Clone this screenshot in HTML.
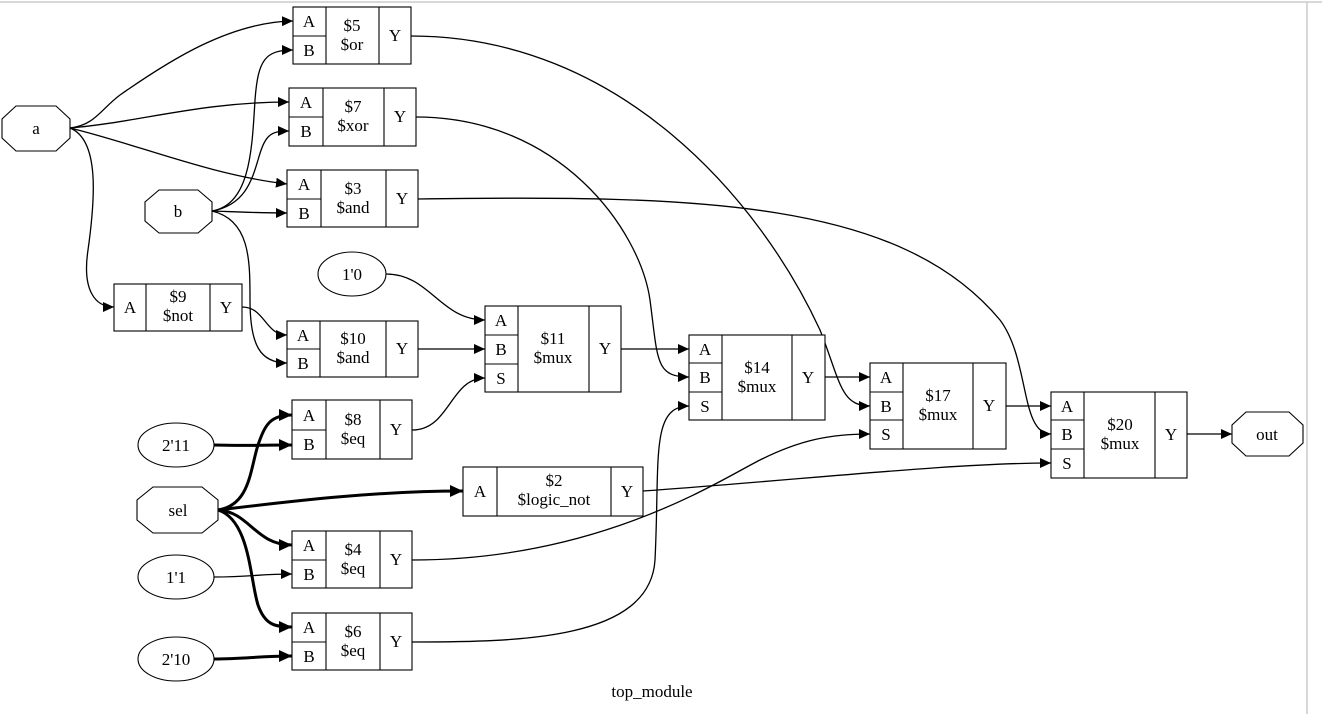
<!DOCTYPE html>
<html><head><meta charset="utf-8"><style>
html,body{margin:0;padding:0;background:#fff;}
svg{display:block;}
text{font-family:"Liberation Serif",serif;font-size:17px;fill:#000;}
</style></head><body>
<svg width="1322" height="714" viewBox="0 0 1322 714" xmlns="http://www.w3.org/2000/svg">
<defs>
<marker id="ar" markerUnits="userSpaceOnUse" markerWidth="12" markerHeight="10" refX="11" refY="5" orient="auto">
<path d="M0,0 L11,5 L0,10 z" fill="#000"/></marker>
<marker id="ar2" markerUnits="userSpaceOnUse" markerWidth="14" markerHeight="12" refX="13" refY="6" orient="auto">
<path d="M0,0 L13,6 L0,12 z" fill="#000"/></marker>
</defs>
<line x1="0" y1="2" x2="1322" y2="2" stroke="#ccc" stroke-width="1.5"/>
<line x1="1307" y1="2" x2="1307" y2="714" stroke="#ccc" stroke-width="1.5"/>
<g fill="none" stroke="#000" stroke-width="1.3">
<path d="M70,128 C95,125 100,110 120,95 C170,60 230,22 293,21" marker-end="url(#ar)"/>
<path d="M70,128 C140,122 200,102 289,102" marker-end="url(#ar)"/>
<path d="M70,128 C140,145 210,175 287,184" marker-end="url(#ar)"/>
<path d="M70,128 C100,140 95,200 88,250 C82,290 95,307 114,307" marker-end="url(#ar)"/>
<path d="M212,211 C250,205 252,150 255,100 C258,60 265,50 293,50" marker-end="url(#ar)"/>
<path d="M212,211 C245,205 252,180 258,160 C265,135 270,131 289,131" marker-end="url(#ar)"/>
<path d="M212,211 C240,212 260,213 287,213" marker-end="url(#ar)"/>
<path d="M212,211 C250,220 250,260 250,300 C250,345 260,363 287,363" marker-end="url(#ar)"/>
<path d="M242,307 C265,307 265,335 287,335" marker-end="url(#ar)"/>
<path d="M386,274 C430,274 440,320 485,320" marker-end="url(#ar)"/>
<path d="M418,349 L485,349" marker-end="url(#ar)"/>
<path d="M412,430 C450,430 450,378 485,378" marker-end="url(#ar)"/>
<path d="M214,577 C250,577 260,574 292,574" marker-end="url(#ar)"/>
<path d="M621,349 L689,349" marker-end="url(#ar)"/>
<path d="M416,117 C560,117 640,230 650,300 C658,360 655,377 689,377" marker-end="url(#ar)"/>
<path d="M412,642 C520,642 650,640 655,560 C660,460 650,406 689,406" marker-end="url(#ar)"/>
<path d="M825,377 L870,377" marker-end="url(#ar)"/>
<path d="M411,36 C620,36 760,200 820,330 C840,380 840,406 870,406" marker-end="url(#ar)"/>
<path d="M412,560 C600,560 720,480 760,460 C800,440 830,434 870,434" marker-end="url(#ar)"/>
<path d="M1006,406 L1051,406" marker-end="url(#ar)"/>
<path d="M418,199 C700,195 900,200 1000,320 C1030,360 1020,434 1051,434" marker-end="url(#ar)"/>
<path d="M643,491 C800,480 950,463 1051,463" marker-end="url(#ar)"/>
<path d="M1187,434 L1232,434" marker-end="url(#ar)"/>
</g>
<g fill="none" stroke="#000" stroke-width="3">
<path d="M214,445 C245,446 260,445 292,445" marker-end="url(#ar2)"/>
<path d="M218,510 C250,505 250,470 258,445 C265,425 270,415 292,415" marker-end="url(#ar2)"/>
<path d="M218,510 C300,500 380,491 463,491" marker-end="url(#ar2)"/>
<path d="M218,510 C250,512 255,545 292,545" marker-end="url(#ar2)"/>
<path d="M218,510 C250,520 250,580 258,605 C265,625 275,627 292,627" marker-end="url(#ar2)"/>
<path d="M214,659 C245,659 260,656 292,656" marker-end="url(#ar2)"/>
</g>
<g fill="#fff" stroke="#000" stroke-width="1.1">
<polygon points="16,106 56,106 70,119 70,138 56,151 16,151 2,138 2,119"/>
<polygon points="159,190 198,190 212,202 212,221 198,233 159,233 145,221 145,202"/>
<polygon points="153,487 202,487 218,500 218,520 202,533 153,533 137,520 137,500"/>
<polygon points="1246,412 1289,412 1303,425 1303,443 1289,456 1246,456 1232,443 1232,425"/>
<ellipse cx="352" cy="274" rx="34" ry="22"/>
<ellipse cx="176" cy="445" rx="38" ry="22"/>
<ellipse cx="176" cy="577" rx="38" ry="22"/>
<ellipse cx="176" cy="659" rx="38" ry="22"/>
<rect x="293" y="7" width="118" height="57"/><path d="M326,7V64M379,7V64M293,36H326"/>
<rect x="289" y="88" width="127" height="58"/><path d="M323,88V146M384,88V146M289,117H323"/>
<rect x="287" y="170" width="131" height="57"/><path d="M321,170V227M386,170V227M287,199H321"/>
<rect x="114" y="284" width="128" height="47"/><path d="M146,284V331M210,284V331"/>
<rect x="287" y="321" width="131" height="56"/><path d="M320,321V377M386,321V377M287,349H320"/>
<rect x="485" y="306" width="136" height="86"/><path d="M518,306V392M589,306V392M485,335H518M485,364H518"/>
<rect x="292" y="400" width="120" height="59"/><path d="M326,400V459M380,400V459M292,430H326"/>
<rect x="463" y="467" width="180" height="49"/><path d="M497,467V516M611,467V516"/>
<rect x="292" y="531" width="120" height="57"/><path d="M326,531V588M380,531V588M292,560H326"/>
<rect x="292" y="613" width="120" height="57"/><path d="M326,613V670M380,613V670M292,642H326"/>
<rect x="689" y="335" width="136" height="85"/><path d="M722,335V420M792,335V420M689,363H722M689,392H722"/>
<rect x="870" y="363" width="136" height="86"/><path d="M903,363V449M973,363V449M870,392H903M870,420H903"/>
<rect x="1051" y="392" width="136" height="86"/><path d="M1084,392V478M1155,392V478M1051,420H1084M1051,449H1084"/>
</g>
<g text-anchor="middle">
<text x="36" y="134">a</text><text x="178" y="217">b</text><text x="178" y="516">sel</text><text x="1267" y="440">out</text>
<text x="352" y="280">1'0</text><text x="176" y="451">2'11</text><text x="176" y="583">1'1</text><text x="176" y="665">2'10</text>
<text x="309" y="27">A</text><text x="309" y="56">B</text><text x="352" y="31">$5</text><text x="352" y="50">$or</text><text x="395" y="41">Y</text>
<text x="306" y="108">A</text><text x="306" y="137">B</text><text x="353" y="112">$7</text><text x="353" y="131">$xor</text><text x="400" y="122">Y</text>
<text x="304" y="190">A</text><text x="304" y="219">B</text><text x="353" y="194">$3</text><text x="353" y="213">$and</text><text x="402" y="204">Y</text>
<text x="130" y="313">A</text><text x="178" y="302">$9</text><text x="178" y="321">$not</text><text x="226" y="313">Y</text>
<text x="303" y="341">A</text><text x="303" y="369">B</text><text x="353" y="344">$10</text><text x="353" y="363">$and</text><text x="402" y="354">Y</text>
<text x="501" y="326">A</text><text x="501" y="355">B</text><text x="501" y="384">S</text><text x="553" y="344">$11</text><text x="553" y="363">$mux</text><text x="605" y="354">Y</text>
<text x="309" y="421">A</text><text x="309" y="450">B</text><text x="353" y="425">$8</text><text x="353" y="444">$eq</text><text x="396" y="435">Y</text>
<text x="480" y="497">A</text><text x="554" y="486">$2</text><text x="554" y="505">$logic_not</text><text x="627" y="497">Y</text>
<text x="309" y="551">A</text><text x="309" y="580">B</text><text x="353" y="555">$4</text><text x="353" y="574">$eq</text><text x="396" y="565">Y</text>
<text x="309" y="633">A</text><text x="309" y="662">B</text><text x="353" y="637">$6</text><text x="353" y="656">$eq</text><text x="396" y="647">Y</text>
<text x="705" y="355">A</text><text x="705" y="383">B</text><text x="705" y="412">S</text><text x="757" y="373">$14</text><text x="757" y="392">$mux</text><text x="808" y="383">Y</text>
<text x="886" y="383">A</text><text x="886" y="412">B</text><text x="886" y="440">S</text><text x="938" y="401">$17</text><text x="938" y="420">$mux</text><text x="989" y="411">Y</text>
<text x="1067" y="412">A</text><text x="1067" y="440">B</text><text x="1067" y="469">S</text><text x="1120" y="430">$20</text><text x="1120" y="449">$mux</text><text x="1171" y="440">Y</text>
<text x="652" y="697">top_module</text>
</g>
</svg>
</body></html>
